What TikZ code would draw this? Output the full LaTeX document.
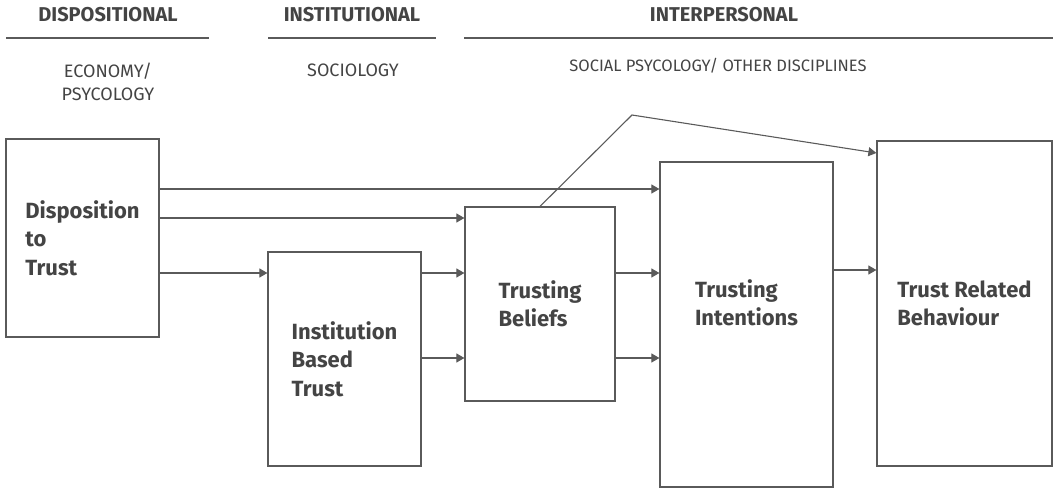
\documentclass[tikz,border=0pt]{standalone}
\usepackage{fontspec}
\setmainfont{Fira Sans}
\usetikzlibrary{arrows.meta,positioning}

\definecolor{ink}{HTML}{444444}
\definecolor{edge}{HTML}{5A5A5A}

\tikzset{
  box/.style={draw=edge,line width=1.2pt,fill=white,align=left,
    font=\bfseries\fontsize{22}{28.5}\selectfont,text=ink,inner sep=0pt},
  head/.style={font=\bfseries\fontsize{20}{24}\selectfont,text=ink},
  field/.style={font=\fontsize{18}{23}\selectfont,text=ink,align=center},
  rule/.style={draw=edge,line width=1.1pt},
  arr/.style={draw=edge,line width=1.1pt,->},
}

\begin{document}
\begin{tikzpicture}[x=1pt,y=-1pt,>={Triangle[length=8pt,width=9pt]}]

  \useasboundingbox (0,0) rectangle (1053,488);

  % column headings
  \node[head] (dispo) at (108,15) {DISPOSITIONAL};
  \node[head] (insti) at (352,15) {INSTITUTIONAL};
  \node[head] (inter) at (724,15) {INTERPERSONAL};
  \draw[rule] (6,38) -- (209,38);
  \draw[rule] (268,38) -- (436,38);
  \draw[rule] (464,38) -- (1053,38);

  \node[field] (econ) at (108,82) {ECONOMY/\\PSYCOLOGY};
  \node[field] (soci) at (353,70) {SOCIOLOGY};
  \node[field,font=\fontsize{16.5}{20}\selectfont] (socp) at (718,66)
       {SOCIAL PSYCOLOGY/ OTHER DISCIPLINES};

  % boxes
  \node[box,minimum width=153pt,minimum height=198pt] (disp) at (82.5,238)
       {Disposition\\to\\Trust};
  \node[box,minimum width=153pt,minimum height=214pt] (ibt) at (344.5,359)
       {Institution\\Based\\Trust};
  \node[box,minimum width=150pt,minimum height=194pt] (tb) at (540,304)
       {Trusting\\Beliefs};
  \node[box,minimum width=173pt,minimum height=325pt,text depth=44pt] (ti) at (746.5,324.5)
       {Trusting\\Intentions};
  \node[box,minimum width=175pt,minimum height=325pt] (trb) at (964.5,303.5)
       {Trust Related\\Behaviour};

  \coordinate (kink) at (632,115);

  % connectors
  \draw[arr] (disp.east |- 0,189) -- (ti.west |- 0,189);
  \draw[arr] (disp.east |- 0,218) -- (tb.west |- 0,218);
  \draw[arr] (disp.east |- 0,273) -- (ibt.west |- 0,273);
  \draw[arr] (ibt.east |- 0,273) -- (tb.west |- 0,273);
  \draw[arr] (ibt.east |- 0,358) -- (tb.west |- 0,358);
  \draw[arr] (tb.east |- 0,273) -- (ti.west |- 0,273);
  \draw[arr] (tb.east |- 0,358) -- (ti.west |- 0,358);
  \draw[arr] (ti.east |- 0,270) -- (trb.west |- 0,270);
  \draw[arr] (tb.north) -- (kink) -- (trb.west |- 0,153);

\end{tikzpicture}
\end{document}
